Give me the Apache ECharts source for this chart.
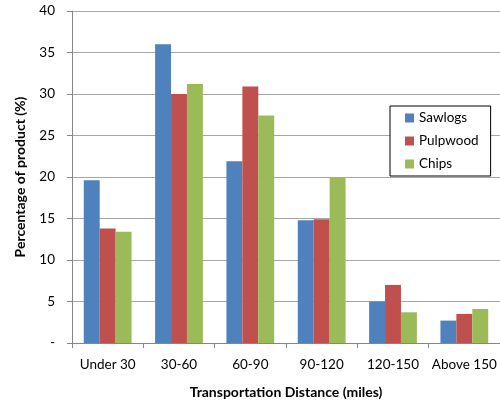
<!DOCTYPE html>
<html><head><meta charset="utf-8">
<script src="https://cdn.jsdelivr.net/npm/echarts@6/dist/echarts.min.js"></script>
<style>html,body{margin:0;padding:0;background:#fff}#c{width:500px;height:404px}</style>
</head><body><div id="c"></div>
<script>
const categories = ["Under 30", "30-60", "60-90", "90-120", "120-150", "Above 150"];
const sawlogs = [19.6, 36.0, 21.9, 14.8, 5.0, 2.7];
const pulpwood = [13.8, 30.0, 30.9, 14.9, 7.0, 3.5];
const chips = [13.4, 31.2, 27.4, 20.0, 3.7, 4.1];
const seriesNames = ["Sawlogs", "Pulpwood", "Chips"];
const yTicks = [0, 5, 10, 15, 20, 25, 30, 35, 40];

const font = "Lato, 'Open Sans', sans-serif";
const chart = echarts.init(document.getElementById('c'), null, {renderer: 'canvas'});
const mk = (name, data, color) => ({
  name, type: 'bar', data, barGap: '0%', barCategoryGap: '33%',
  itemStyle: {color}, animation: false
});
chart.setOption({
  animation: false,
  textStyle: {fontFamily: font},
  grid: {left: 72, top: 11, right: -2, bottom: 60, containLabel: false},
  legend: {
    orient: 'vertical', left: 390, top: 106, width: 104,
    data: seriesNames,
    borderColor: '#000', borderWidth: 1, backgroundColor: '#fff',
    padding: [4, 12, 4, 15], itemWidth: 9, itemHeight: 9, itemGap: 7,
    icon: 'rect',
    textStyle: {fontSize: 13.5, lineHeight: 16, color: '#000', fontFamily: font}
  },
  xAxis: {
    type: 'category', data: categories,
    name: 'Transportation Distance (miles)', nameLocation: 'middle', nameGap: 42,
    nameTextStyle: {fontWeight: 'bold', fontSize: 14, color: '#000', fontFamily: font},
    axisLine: {lineStyle: {color: '#868686'}},
    axisTick: {show: true, length: 5, lineStyle: {color: '#868686'}},
    axisLabel: {fontSize: 13.5, color: '#000', margin: 15, interval: 0, fontFamily: font}
  },
  yAxis: {
    type: 'value', min: 0, max: 40, interval: 5,
    name: 'Percentage of product (%)', nameLocation: 'middle', nameGap: 45,
    nameRotate: 90,
    nameTextStyle: {fontWeight: 'bold', fontSize: 14, color: '#000', fontFamily: font},
    axisLine: {show: true, lineStyle: {color: '#868686'}},
    axisTick: {show: true, length: 5, lineStyle: {color: '#868686'}},
    axisLabel: {fontSize: 13.5, color: '#000', margin: 17, fontFamily: font,
      formatter: v => yTicks.includes(v) ? (v === 0 ? '-' : String(v)) : ''},
    splitLine: {lineStyle: {color: '#a6a6a6'}}
  },
  series: [
    mk(seriesNames[0], sawlogs, '#4F81BD'),
    mk(seriesNames[1], pulpwood, '#C0504D'),
    mk(seriesNames[2], chips, '#9BBB59')
  ]
});
</script></body></html>
